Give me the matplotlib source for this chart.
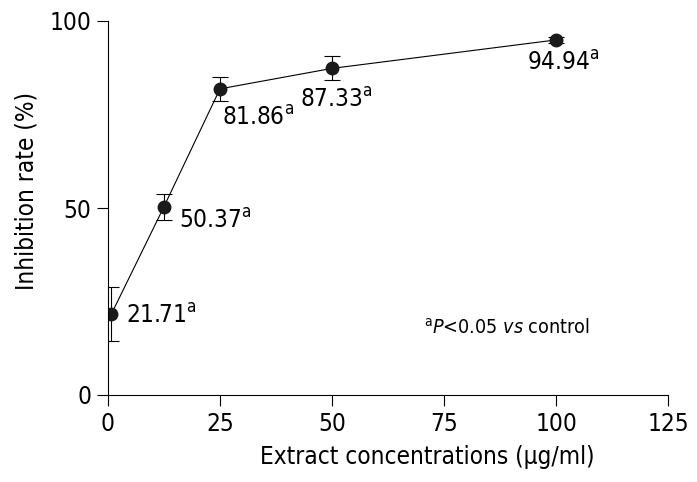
import matplotlib.pyplot as plt
from matplotlib import font_manager as fm

# data
conc = [0.78, 12.5, 25, 50, 100]
rate = [21.71, 50.37, 81.86, 87.33, 94.94]
sd = [7.2, 3.5, 3.3, 3.2, 0.8]
labels = ["21.71", "50.37", "81.86", "87.33", "94.94"]
# label offsets in pixels from the point (dx to text start, dy to text centre)
offsets = [(15, -2), (15, -14), (2, -29), (-32, -31), (-29, -23)]

# Tahoma-like look: use DejaVu Sans Condensed if it is there
cond = fm.findfont(fm.FontProperties(family="DejaVu Sans", stretch="condensed"))
if "Condensed" in cond:
    plt.rcParams['font.stretch'] = 'condensed'
    plt.rcParams['mathtext.fontset'] = 'custom'
    plt.rcParams['mathtext.rm'] = 'DejaVu Sans:stretch=condensed'
    plt.rcParams['mathtext.it'] = 'DejaVu Sans:italic:stretch=condensed'
    fs = 17.5
else:
    plt.rcParams['mathtext.fontset'] = 'dejavusans'
    fs = 15.8
plt.rcParams['font.family'] = ['DejaVu Sans']

fig = plt.figure(figsize=(6.97, 4.82), dpi=100)
ax = fig.add_axes([108 / 697, 87 / 482, 560 / 697, 374 / 482])

ax.errorbar(conc, rate, yerr=sd, color="black", lw=0.8, marker="o", ms=9,
            mfc="#1a1a1a", mec="#1a1a1a", capsize=6, elinewidth=0.8, capthick=0.8)

for x, y, lab, (dx, dy) in zip(conc, rate, labels, offsets):
    ax.annotate(lab + r"$^{\mathrm{a}}$", (x, y), xytext=(dx, dy),
                textcoords="offset pixels", ha="left", va="center", fontsize=fs)

ax.text(70.5, 18.0, r"$^{\mathrm{a}}\mathit{P}$<0.05 $\mathit{vs}$ control",
        fontsize=fs * 0.81, va="center", ha="left")

ax.set_xlim(0, 125)
ax.set_ylim(0, 100)
ax.set_xticks([0, 25, 50, 75, 100, 125])
ax.set_yticks([0, 50, 100])
ax.spines["top"].set_visible(False)
ax.spines["right"].set_visible(False)
ax.spines["left"].set_bounds(0, 100)
ax.tick_params(direction="out", length=8, width=0.8, labelsize=fs, pad=4)
ax.set_xlabel("Extract concentrations (\u03bcg/ml)", fontsize=fs)
ax.set_ylabel("Inhibition rate (%)", fontsize=fs, labelpad=8)
ax.xaxis.set_label_coords(0.57, -0.135)
ax.yaxis.label.set_y(0.545)

fig.savefig("out.png", dpi=100)
